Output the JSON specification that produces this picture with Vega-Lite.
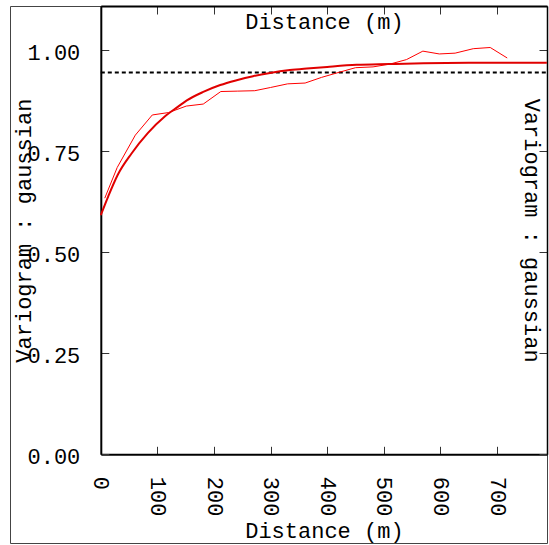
{
  "$schema": "https://vega.github.io/schema/vega-lite/v6.json",
  "width": 537,
  "height": 537,
  "autosize": {"type": "none"},
  "padding": {"left": 10, "top": 6, "right": 2, "bottom": 2},
  "background": "white",
  "config": {
    "view": {"stroke": "#444", "strokeWidth": 1},
    "axis": {
      "labelFont": "Liberation Mono",
      "labelFontSize": 22,
      "labelColor": "black",
      "titleFont": "Liberation Mono",
      "titleFontSize": 22,
      "titleFontWeight": "normal",
      "titleColor": "black",
      "domainColor": "black",
      "domainWidth": 2,
      "tickColor": "#333",
      "tickWidth": 1,
      "tickSize": -8,
      "grid": false
    }
  },
  "datasets": {
    "empirical": [
      {"dist": 7, "gamma": 0.634},
      {"dist": 29, "gamma": 0.710},
      {"dist": 61, "gamma": 0.790},
      {"dist": 91, "gamma": 0.840},
      {"dist": 120, "gamma": 0.846},
      {"dist": 151, "gamma": 0.862},
      {"dist": 181, "gamma": 0.867},
      {"dist": 212, "gamma": 0.898},
      {"dist": 242, "gamma": 0.899},
      {"dist": 272, "gamma": 0.900},
      {"dist": 300, "gamma": 0.908},
      {"dist": 330, "gamma": 0.917},
      {"dist": 361, "gamma": 0.919},
      {"dist": 390, "gamma": 0.933},
      {"dist": 422, "gamma": 0.946},
      {"dist": 450, "gamma": 0.957},
      {"dist": 481, "gamma": 0.959},
      {"dist": 511, "gamma": 0.966},
      {"dist": 540, "gamma": 0.977},
      {"dist": 569, "gamma": 0.998},
      {"dist": 598, "gamma": 0.991},
      {"dist": 626, "gamma": 0.993},
      {"dist": 658, "gamma": 1.004},
      {"dist": 688, "gamma": 1.007},
      {"dist": 718, "gamma": 0.981}
    ],
    "model": [
      {"dist": 0, "gamma": 0.592},
      {"dist": 13, "gamma": 0.638},
      {"dist": 30, "gamma": 0.692},
      {"dist": 54, "gamma": 0.744},
      {"dist": 83, "gamma": 0.795},
      {"dist": 113, "gamma": 0.836},
      {"dist": 136, "gamma": 0.860},
      {"dist": 152, "gamma": 0.876},
      {"dist": 181, "gamma": 0.897},
      {"dist": 211, "gamma": 0.914},
      {"dist": 240, "gamma": 0.926},
      {"dist": 269, "gamma": 0.936},
      {"dist": 299, "gamma": 0.944},
      {"dist": 334, "gamma": 0.951},
      {"dist": 364, "gamma": 0.955},
      {"dist": 400, "gamma": 0.959},
      {"dist": 452, "gamma": 0.964},
      {"dist": 510, "gamma": 0.966},
      {"dist": 570, "gamma": 0.968},
      {"dist": 650, "gamma": 0.969},
      {"dist": 720, "gamma": 0.969},
      {"dist": 788, "gamma": 0.969}
    ],
    "sill": [
      {"from": 0, "to": 788.3, "gamma": 0.945}
    ]
  },
  "layer": [
    {
      "data": {"name": "sill"},
      "mark": {"type": "rule", "color": "black", "strokeWidth": 2, "strokeDash": [4, 3]},
      "encoding": {
        "x": {"field": "from", "type": "quantitative", "axis": null,
              "scale": {"domain": [0, 788.3], "range": [90.8, 537], "nice": false, "zero": false}},
        "x2": {"field": "to"},
        "y": {"field": "gamma", "type": "quantitative", "axis": null,
              "scale": {"domain": [0, 1.1097], "range": [448.3, 0], "nice": false, "zero": false}}
      }
    },
    {
      "data": {"name": "empirical"},
      "mark": {"type": "line", "color": "red", "strokeWidth": 1},
      "encoding": {
        "x": {"field": "dist", "type": "quantitative",
              "axis": {"orient": "bottom", "offset": -88.7, "values": [0, 100, 200, 300, 400, 500, 600, 700],
                       "labelAngle": 90, "labelPadding": 30, "title": "Distance (m)",
                       "titleY": 76, "titleBaseline": "middle"}},
        "y": {"field": "gamma", "type": "quantitative",
              "axis": {"orient": "left", "offset": -90.8, "values": [0, 0.25, 0.5, 0.75, 1.0], "format": ".2f",
                       "labelPadding": 29, "labelOffset": 2, "title": "Variogram : gaussian",
                       "titleX": -77, "titleBaseline": "middle", "titleAngle": -90}}
      }
    },
    {
      "data": {"name": "model"},
      "mark": {"type": "line", "color": "#e00000", "strokeWidth": 2, "interpolate": "monotone"},
      "encoding": {
        "x": {"field": "dist", "type": "quantitative",
              "axis": {"orient": "top", "values": [0, 100, 200, 300, 400, 500, 600, 700],
                       "labels": false, "title": "Distance (m)", "titleY": 15, "titleBaseline": "middle"}},
        "y": {"field": "gamma", "type": "quantitative",
              "axis": {"orient": "right", "values": [0, 0.25, 0.5, 0.75, 1.0], "labels": false,
                       "domainWidth": 1.5, "title": "Variogram : gaussian",
                       "titleX": -16, "titleBaseline": "middle", "titleAngle": 90}}
      }
    }
  ],
  "resolve": {"axis": {"x": "independent", "y": "independent"}}
}
